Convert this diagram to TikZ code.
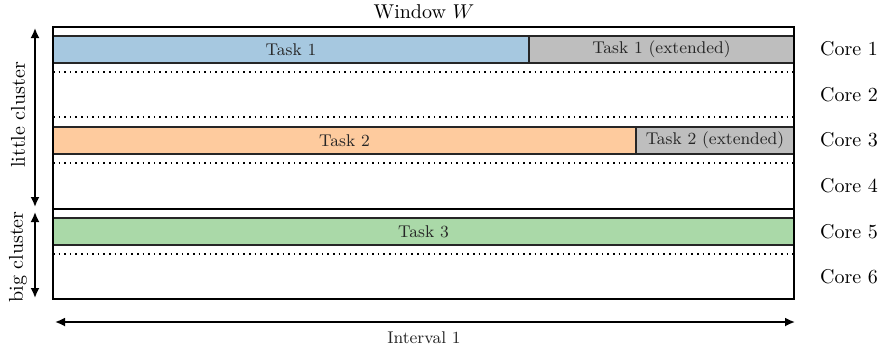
\documentclass[tikz,border=0pt]{standalone}
\usetikzlibrary{arrows.meta}
\definecolor{tblue}{HTML}{A6C8E0}
\definecolor{tgray}{HTML}{BEBEBE}
\definecolor{torange}{HTML}{FECB9E}
\definecolor{tgreen}{HTML}{AAD9A8}
\tikzset{
  bar/.style={draw=black!85, line width=0.6pt},
  barlabel/.style={font=\fontsize{8.5}{10}\selectfont, text=black!85, inner sep=0pt},
  frame/.style={draw=black, line width=1pt},
  sep/.style={dotted, line width=0.8pt},
  corelabel/.style={inner sep=0pt},
  dimarrow/.style={line width=0.9pt, {Latex[length=5pt,width=4.5pt]}-{Latex[length=5pt,width=4.5pt]}}
}
\begin{document}
\begin{tikzpicture}[x=0.5pt,y=-0.5pt]
\useasboundingbox (0,0) rectangle (883,349);
% task bars
\draw[bar, fill=tblue] (53,36) rectangle node[barlabel] (t1) {Task 1} (529,63);
\draw[bar, fill=tgray] (529,36) rectangle node[barlabel] (t1e) {Task 1 (extended)} (794,63);
\draw[bar, fill=torange] (53,127) rectangle node[barlabel] (t2) {Task 2} (636,154);
\draw[bar, fill=tgray] (636,127) rectangle node[barlabel] (t2e) {Task 2 (extended)} (794,154);
\draw[bar, fill=tgreen] (53,218) rectangle node[barlabel] (t3) {Task 3} (794,245);
% separators
\draw[sep] (53,72) -- (794,72);
\draw[sep] (53,117) -- (794,117);
\draw[sep] (53,163) -- (794,163);
\draw[sep] (53,254) -- (794,254);
\draw[line width=1pt] (53,209) -- (794,209);
% frame
\draw[frame] (53,27) rectangle (794,299);
% title
\node (win) at (424,12) {Window $W$};
% core labels
\node[corelabel] (c1) at (849,49) {Core 1};
\node[corelabel] (c2) at (849,95) {Core 2};
\node[corelabel] (c3) at (849,140) {Core 3};
\node[corelabel] (c4) at (849,186) {Core 4};
\node[corelabel] (c5) at (849,232) {Core 5};
\node[corelabel] (c6) at (849,277) {Core 6};
% cluster arrows
\coordinate (la) at (35,28);
\coordinate (lb) at (35,207);
\coordinate (ba) at (35,212);
\coordinate (bb) at (35,298);
\draw[dimarrow] (la) -- (lb);
\draw[dimarrow] (ba) -- (bb);
\node[rotate=90] (lc) at (18,115) {little cluster};
\node[rotate=90] (bc) at (18,257) {big cluster};
% interval arrow
\coordinate (ia) at (55,322);
\coordinate (ib) at (795,322);
\draw[dimarrow] (ia) -- (ib);
\node[barlabel] (iv) at (424,338) {Interval 1};
\end{tikzpicture}
\end{document}
